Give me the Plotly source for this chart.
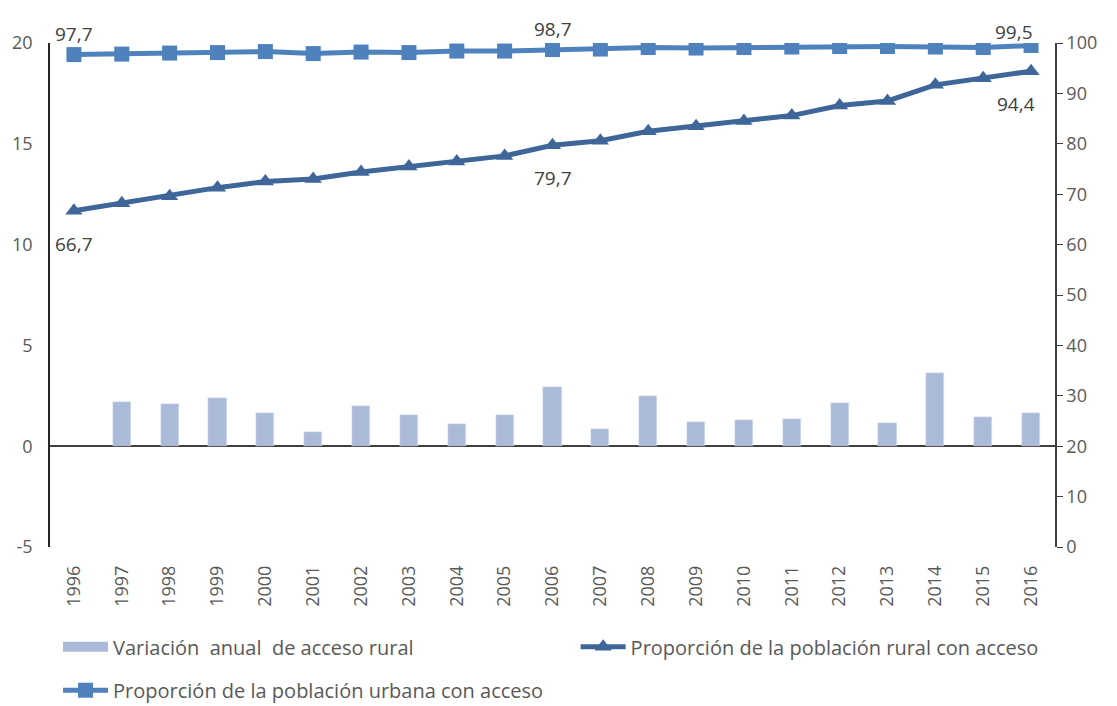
import plotly.graph_objects as go

years = [str(y) for y in range(1996, 2017)]
variacion = [None, 2.18, 2.08, 2.38, 1.64, 0.69, 1.98, 1.54, 1.09, 1.54, 2.93,
             0.84, 2.48, 1.19, 1.29, 1.34, 2.13, 1.14, 3.62, 1.44, 1.64]
rural = [66.7, 68.2, 69.6, 71.3, 72.5, 73.0, 74.4, 75.5, 76.5, 77.6, 79.7,
         80.6, 82.5, 83.5, 84.5, 85.6, 87.6, 88.5, 91.7, 93.0, 94.4]
urbana = [97.7, 97.8, 98.0, 98.1, 98.3, 97.9, 98.2, 98.1, 98.4, 98.4, 98.7,
          98.8, 99.1, 99.0, 99.1, 99.2, 99.3, 99.3, 99.2, 99.1, 99.5]
label_years = ["1996", "2006", "2016"]
left_ticks = [-5, 0, 5, 10, 15, 20]
left_ticktext = ["-5", "0", "5", "10", "15", "20"]

def fmt(v):
    return f"{v:.1f}".replace(".", ",")

FONT = "Open Sans"
TXT = "#404040"
TICK = "#595959"
BAR = "#ABBAD8"

fig = go.Figure()
fig.add_trace(go.Bar(
    x=years, y=variacion, name="Variación  anual  de acceso rural",
    marker=dict(color=BAR), width=0.38, yaxis="y", showlegend=False,
))
# legend entry for the bars drawn as a wide rectangle
fig.add_trace(go.Scatter(
    x=[None], y=[None], name="Variación  anual  de acceso rural",
    mode="lines", line=dict(color=BAR, width=14), yaxis="y", legend="legend",
))
fig.add_trace(go.Scatter(
    x=years, y=rural, name="Proporción de la población rural con acceso",
    mode="lines+markers", yaxis="y2", legend="legend3",
    line=dict(color="#3E6699", width=5),
    marker=dict(symbol="triangle-up", size=15, color="#3E6699"),
))
fig.add_trace(go.Scatter(
    x=years, y=urbana, name="Proporción de la población urbana con acceso",
    mode="lines+markers", yaxis="y2", legend="legend2",
    line=dict(color="#4F81BD", width=5),
    marker=dict(symbol="square", size=15, color="#4F81BD"),
))

annotations = []
for i, (y, r, u) in enumerate(zip(years, rural, urbana)):
    if y not in label_years:
        continue
    last = (i == len(years) - 1)
    annotations.append(dict(
        x=i, y=r, xref="x", yref="y2", text=fmt(r), showarrow=False,
        xanchor="right" if last else "center", xshift=6 if last else 0,
        yanchor="middle", yshift=-33,
        font=dict(family=FONT, size=19, color=TXT)))
    annotations.append(dict(
        x=i, y=u, xref="x", yref="y2", text=fmt(u), showarrow=False,
        xanchor="right" if last else "center", xshift=4 if last else 0,
        yanchor="middle", yshift=14 if last else 21,
        font=dict(family=FONT, size=19, color=TXT)))

legend_common = dict(orientation="h", xanchor="left", yanchor="middle",
                     font=dict(family=FONT, size=20, color=TICK),
                     itemwidth=45, bgcolor="rgba(0,0,0,0)")

fig.update_layout(
    width=1117, height=706,
    margin=dict(l=50, r=62, t=43, b=159, autoexpand=False),
    paper_bgcolor="white", plot_bgcolor="white",
    font=dict(family=FONT, size=18, color=TICK),
    bargap=0,
    showlegend=True,
    annotations=annotations,
    legend=dict(x=0.008, y=-0.198, **legend_common),
    legend3=dict(x=0.523, y=-0.198, **legend_common),
    legend2=dict(x=0.008, y=-0.284, **legend_common),
    xaxis=dict(type="category", range=[-0.5, len(years) - 0.5],
               tickangle=-90, showgrid=False, showline=False,
               ticks="", ticklabelstandoff=14,
               tickfont=dict(family=FONT, size=18, color=TICK)),
    yaxis=dict(range=[-5, 20], tickmode="array", tickvals=left_ticks,
               ticktext=left_ticktext, showgrid=False, showline=True,
               linecolor="#262626", linewidth=1.5, ticks="", zeroline=True,
               zerolinecolor="#404040", zerolinewidth=1.5,
               ticklabelstandoff=12,
               tickfont=dict(family=FONT, size=18, color=TICK)),
    yaxis2=dict(range=[0, 100], dtick=10, overlaying="y", side="right",
                showgrid=False, showline=True, linecolor="#404040", linewidth=1.5,
                ticks="outside", ticklen=6, tickcolor="#404040", zeroline=False,
                tickfont=dict(family=FONT, size=18, color=TICK)),
)

fig.write_html("out.html", config={"displayModeBar": False},
               post_script="document.body.style.margin='0';")
